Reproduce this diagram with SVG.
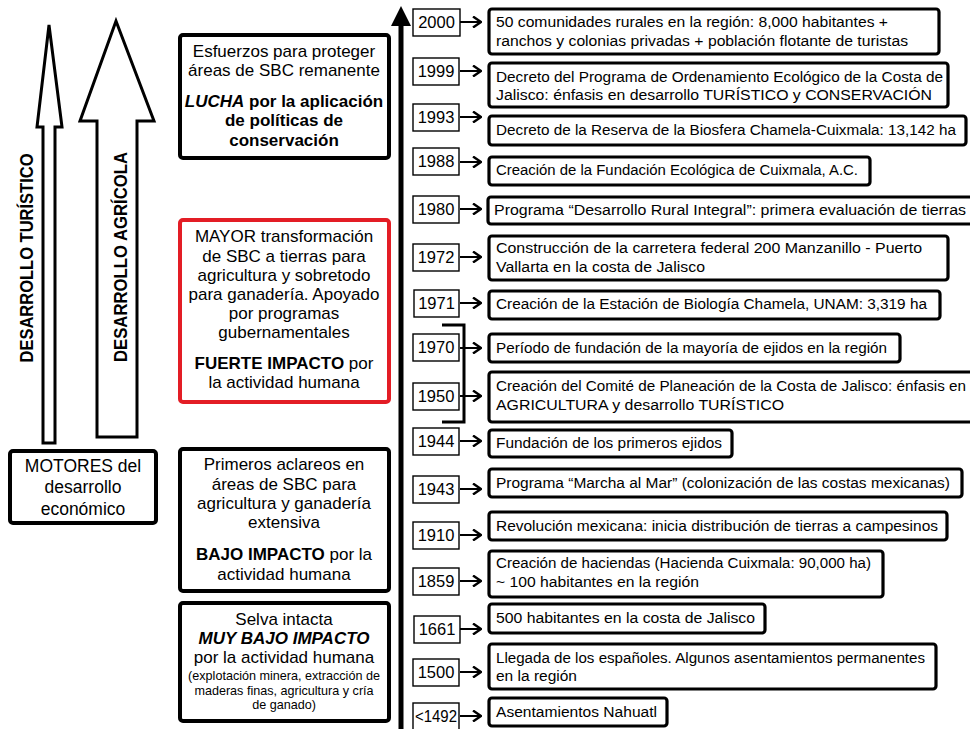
<svg xmlns="http://www.w3.org/2000/svg" width="970" height="729" viewBox="0 0 970 729">
<defs>
<style>
text{font-family:"Liberation Sans",Arial,sans-serif;fill:#000}
.yb{fill:#fff;stroke:#000;stroke-width:1.4}
.eb{fill:#fff;stroke:#000;stroke-width:3.2}
.lb{fill:#fff;stroke:#000;stroke-width:4}
.rb{fill:#fff;stroke:#e31d25;stroke-width:4}
.yt{font-size:16.5px;text-anchor:middle}
.et{font-size:15.3px}
.lt{font-size:17px;text-anchor:middle}
.mt{font-size:17.5px;text-anchor:middle}
.b{font-weight:bold}
.i{font-style:italic}
.sm{font-size:12.6px;text-anchor:middle}
.ar{fill:none;stroke:#000;stroke-width:2}
.big{fill:#fff;stroke:#000;stroke-width:3;stroke-linejoin:miter}
.vt{font-size:19px;font-weight:bold;text-anchor:middle}
</style>
<marker id="ah" viewBox="0 0 10 12" refX="9" refY="6" markerWidth="10" markerHeight="12" markerUnits="userSpaceOnUse" orient="auto">
<path d="M1,0.5 L9,6 L1,11.5" fill="none" stroke="#000" stroke-width="2.4"/>
</marker>
</defs>
<rect width="970" height="729" fill="#fff"/>

<g id="flechas-motores">
<path class="big" d="M43,443 V127 H37 L49,25 L62,127 H55 V443 Z"/>
<text class="vt" transform="translate(33,258) rotate(-90)" textLength="209" lengthAdjust="spacingAndGlyphs">DESARROLLO TURÍSTICO</text>
<path class="big" d="M97,437 V121 H80 L116,21 L154,121 H137 V437 Z"/>
<text class="vt" transform="translate(127,257) rotate(-90)" textLength="210" lengthAdjust="spacingAndGlyphs">DESARROLLO AGRÍCOLA</text>
</g>

<g id="motores">
<rect class="lb" x="10" y="451" width="146" height="72" rx="3"/>
<text class="mt" x="83" y="472">MOTORES del</text>
<text class="mt" x="83" y="493">desarrollo</text>
<text class="mt" x="83" y="515">económico</text>
</g>

<g id="etapa-conservacion">
<rect class="lb" x="180" y="35" width="209" height="123" rx="3"/>
<text class="lt" x="284" y="57">Esfuerzos para proteger</text>
<text class="lt" x="284" y="76">áreas de SBC remanente</text>
<text class="lt b" x="284" y="107"><tspan class="i">LUCHA</tspan> por la aplicación</text>
<text class="lt b" x="284" y="126">de políticas de</text>
<text class="lt b" x="284" y="146">conservación</text>
</g>

<g id="etapa-transformacion">
<rect class="rb" x="180" y="220" width="209" height="182" rx="3"/>
<text class="lt" x="284" y="242">MAYOR transformación</text>
<text class="lt" x="284" y="262">de SBC a tierras para</text>
<text class="lt" x="284" y="281">agricultura y sobretodo</text>
<text class="lt" x="284" y="300">para ganadería. Apoyado</text>
<text class="lt" x="284" y="319">por programas</text>
<text class="lt" x="284" y="338">gubernamentales</text>
<text class="lt" x="284" y="369"><tspan class="b">FUERTE IMPACTO</tspan> por</text>
<text class="lt" x="284" y="388">la actividad humana</text>
</g>

<g id="etapa-aclareos">
<rect class="lb" x="180" y="449" width="209" height="142" rx="3"/>
<text class="lt" x="284" y="470">Primeros aclareos en</text>
<text class="lt" x="284" y="490">áreas de SBC para</text>
<text class="lt" x="284" y="509">agricultura y ganadería</text>
<text class="lt" x="284" y="528">extensiva</text>
<text class="lt" x="284" y="560"><tspan class="b">BAJO IMPACTO</tspan> por la</text>
<text class="lt" x="284" y="580">actividad humana</text>
</g>

<g id="etapa-selva">
<rect class="lb" x="180" y="603" width="209" height="118" rx="3"/>
<text class="lt" x="284" y="625">Selva intacta</text>
<text class="lt b i" x="284" y="644">MUY BAJO IMPACTO</text>
<text class="lt" x="284" y="663">por la actividad humana</text>
<text class="sm" x="284" y="680">(explotación minera, extracción de</text>
<text class="sm" x="284" y="695">maderas finas, agricultura y cría</text>
<text class="sm" x="284" y="709">de ganado)</text>
</g>

<g id="eje-tiempo">
<line x1="401" y1="22" x2="401" y2="729" stroke="#000" stroke-width="5"/>
<polygon points="401,6 391,26 411,26" fill="#000"/>
</g>

<g id="conectores">
<path d="M442,325 H464 V422 H442" fill="none" stroke="#000" stroke-width="3"/>
<line class="ar" x1="460" y1="22" x2="481" y2="22" marker-end="url(#ah)"/>
<line class="ar" x1="460" y1="71" x2="481" y2="71" marker-end="url(#ah)"/>
<line class="ar" x1="460" y1="117" x2="481" y2="117" marker-end="url(#ah)"/>
<line class="ar" x1="460" y1="162" x2="481" y2="162" marker-end="url(#ah)"/>
<line class="ar" x1="460" y1="209" x2="481" y2="209" marker-end="url(#ah)"/>
<line class="ar" x1="460" y1="257" x2="481" y2="257" marker-end="url(#ah)"/>
<line class="ar" x1="460" y1="303" x2="481" y2="303" marker-end="url(#ah)"/>
<line class="ar" x1="460" y1="348" x2="481" y2="348" marker-end="url(#ah)"/>
<line class="ar" x1="460" y1="396" x2="481" y2="396" marker-end="url(#ah)"/>
<line class="ar" x1="460" y1="441" x2="481" y2="441" marker-end="url(#ah)"/>
<line class="ar" x1="460" y1="489" x2="481" y2="489" marker-end="url(#ah)"/>
<line class="ar" x1="460" y1="535" x2="481" y2="535" marker-end="url(#ah)"/>
<line class="ar" x1="460" y1="581" x2="481" y2="581" marker-end="url(#ah)"/>
<line class="ar" x1="460" y1="629" x2="481" y2="629" marker-end="url(#ah)"/>
<line class="ar" x1="460" y1="672" x2="481" y2="672" marker-end="url(#ah)"/>
<line class="ar" x1="460" y1="716" x2="481" y2="716" marker-end="url(#ah)"/>
</g>

<g id="y2000"><rect class="yb" x="413" y="9" width="47" height="27"/><text class="yt" x="436.5" y="28">2000</text></g>
<g id="e2000"><rect class="eb" x="489" y="9" width="450" height="45" rx="3"/>
<text class="et" x="496" y="27" textLength="392" lengthAdjust="spacingAndGlyphs">50 comunidades rurales en la región: 8,000 habitantes +</text>
<text class="et" x="496" y="46" textLength="412" lengthAdjust="spacingAndGlyphs">ranchos y colonias privadas + población flotante de turistas</text></g>

<g id="y1999"><rect class="yb" x="413" y="58" width="46" height="27"/><text class="yt" x="436" y="77">1999</text></g>
<g id="e1999"><rect class="eb" x="489" y="63" width="459" height="44" rx="3"/>
<text class="et" x="496" y="82" textLength="447" lengthAdjust="spacingAndGlyphs">Decreto del Programa de Ordenamiento Ecológico de la Costa de</text>
<text class="et" x="496" y="100" textLength="436" lengthAdjust="spacingAndGlyphs">Jalisco: énfasis en desarrollo TURÍSTICO y CONSERVACIÓN</text></g>

<g id="y1993"><rect class="yb" x="413" y="104" width="46" height="27"/><text class="yt" x="436" y="123">1993</text></g>
<g id="e1993"><rect class="eb" x="489" y="116" width="477" height="29" rx="3"/>
<text class="et" x="496" y="135" textLength="460" lengthAdjust="spacingAndGlyphs">Decreto de la Reserva de la Biosfera Chamela-Cuixmala: 13,142 ha</text></g>

<g id="y1988"><rect class="yb" x="413" y="148" width="46" height="27"/><text class="yt" x="436" y="167">1988</text></g>
<g id="e1988"><rect class="eb" x="489" y="157" width="381" height="28" rx="3"/>
<text class="et" x="496" y="175" textLength="362" lengthAdjust="spacingAndGlyphs">Creación de la Fundación Ecológica de Cuixmala, A.C.</text></g>

<g id="y1980"><rect class="yb" x="413" y="196" width="46" height="27"/><text class="yt" x="436" y="215">1980</text></g>
<g id="e1980"><rect class="eb" x="488" y="197" width="490" height="27" rx="3"/>
<text class="et" x="494" y="215" textLength="472" lengthAdjust="spacingAndGlyphs">Programa “Desarrollo Rural Integral”: primera evaluación de tierras</text></g>

<g id="y1972"><rect class="yb" x="413" y="244" width="46" height="27"/><text class="yt" x="436" y="263">1972</text></g>
<g id="e1972"><rect class="eb" x="489" y="236" width="459" height="44" rx="3"/>
<text class="et" x="496" y="253" textLength="426" lengthAdjust="spacingAndGlyphs">Construcción de la carretera federal 200 Manzanillo - Puerto</text>
<text class="et" x="496" y="272" textLength="209" lengthAdjust="spacingAndGlyphs">Vallarta en la costa de Jalisco</text></g>

<g id="y1971"><rect class="yb" x="414" y="290" width="45" height="27"/><text class="yt" x="436.5" y="309">1971</text></g>
<g id="e1971"><rect class="eb" x="489" y="291" width="451" height="28" rx="3"/>
<text class="et" x="496" y="309" textLength="431" lengthAdjust="spacingAndGlyphs">Creación de la Estación de Biología Chamela, UNAM: 3,319  ha</text></g>

<g id="y1970"><rect class="yb" x="413" y="334" width="46" height="27"/><text class="yt" x="436" y="353">1970</text></g>
<g id="e1970"><rect class="eb" x="489" y="334" width="411" height="28" rx="3"/>
<text class="et" x="496" y="353" textLength="391" lengthAdjust="spacingAndGlyphs">Período de fundación de la mayoría de ejidos en la región</text></g>

<g id="y1950"><rect class="yb" x="413" y="383" width="46" height="27"/><text class="yt" x="436" y="402">1950</text></g>
<g id="e1950"><rect class="eb" x="489" y="372" width="490" height="50" rx="3"/>
<text class="et" x="496" y="391" textLength="470" lengthAdjust="spacingAndGlyphs">Creación del Comité de Planeación de la Costa de Jalisco: énfasis en</text>
<text class="et" x="496" y="410" textLength="288" lengthAdjust="spacingAndGlyphs">AGRICULTURA y desarrollo TURÍSTICO</text></g>

<g id="y1944"><rect class="yb" x="413" y="428" width="46" height="27"/><text class="yt" x="436" y="447">1944</text></g>
<g id="e1944"><rect class="eb" x="489" y="430" width="243" height="27" rx="3"/>
<text class="et" x="496" y="448" textLength="226" lengthAdjust="spacingAndGlyphs">Fundación de los primeros ejidos</text></g>

<g id="y1943"><rect class="yb" x="413" y="476" width="46" height="27"/><text class="yt" x="436" y="495">1943</text></g>
<g id="e1943"><rect class="eb" x="489" y="469" width="473" height="28" rx="3"/>
<text class="et" x="496" y="488" textLength="454" lengthAdjust="spacingAndGlyphs">Programa “Marcha al Mar” (colonización de las costas mexicanas)</text></g>

<g id="y1910"><rect class="yb" x="413" y="522" width="46" height="27"/><text class="yt" x="436" y="541">1910</text></g>
<g id="e1910"><rect class="eb" x="489" y="512" width="458" height="28" rx="3"/>
<text class="et" x="496" y="531" textLength="442" lengthAdjust="spacingAndGlyphs">Revolución mexicana: inicia distribución de tierras a campesinos</text></g>

<g id="y1859"><rect class="yb" x="413" y="568" width="46" height="27"/><text class="yt" x="436" y="587">1859</text></g>
<g id="e1859"><rect class="eb" x="489" y="551" width="394" height="46" rx="3"/>
<text class="et" x="496" y="568" textLength="375" lengthAdjust="spacingAndGlyphs">Creación de haciendas (Hacienda Cuixmala: 90,000 ha)</text>
<text class="et" x="496" y="587" textLength="203" lengthAdjust="spacingAndGlyphs">~ 100 habitantes en la región</text></g>

<g id="y1661"><rect class="yb" x="414" y="616" width="46" height="27"/><text class="yt" x="437" y="635">1661</text></g>
<g id="e1661"><rect class="eb" x="489" y="604" width="276" height="29" rx="3"/>
<text class="et" x="496" y="623" textLength="259" lengthAdjust="spacingAndGlyphs">500 habitantes en la costa de Jalisco</text></g>

<g id="y1500"><rect class="yb" x="413" y="659" width="46" height="27"/><text class="yt" x="436" y="678">1500</text></g>
<g id="e1500"><rect class="eb" x="489" y="644" width="447" height="45" rx="3"/>
<text class="et" x="496" y="663" textLength="429" lengthAdjust="spacingAndGlyphs">Llegada de los españoles. Algunos asentamientos permanentes</text>
<text class="et" x="496" y="681" textLength="81" lengthAdjust="spacingAndGlyphs">en la región</text></g>

<g id="y1492"><rect class="yb" x="413" y="703" width="46" height="30"/><text class="yt" x="436" y="722" textLength="42" lengthAdjust="spacingAndGlyphs">&lt;1492</text></g>
<g id="e1492"><rect class="eb" x="489" y="698" width="178" height="28" rx="3"/>
<text class="et" x="496" y="717" textLength="161" lengthAdjust="spacingAndGlyphs">Asentamientos Nahuatl</text></g>
</svg>
